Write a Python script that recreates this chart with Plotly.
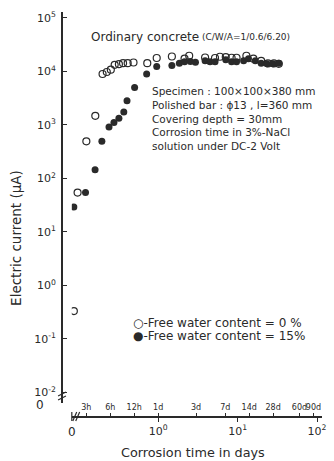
import plotly.graph_objects as go

# Corrosion time (days) and electric current (µA), free water content = 0 %
days_0 = [0.087, 0.097, 0.125, 0.162, 0.20, 0.226, 0.254, 0.284, 0.321, 0.362, 0.414, 0.49,
          0.73, 0.96, 1.49, 2.15, 2.46, 3.9, 5.2, 6.0, 7.1, 8.4, 9.7, 12.9, 15.8, 19.8,
          24.1, 28.6, 33.0]
current_0 = [0.33, 54, 490, 1470, 8900, 9700, 10700, 13200, 13600, 14200, 14200, 14600,
             14200, 17700, 18900, 17200, 19500, 18100, 17700, 18700, 18400, 17900, 17900,
             19500, 17200, 15700, 14000, 14000, 13800]

# free water content = 15 %
days_15 = [0.087, 0.122, 0.161, 0.196, 0.241, 0.278, 0.321, 0.37, 0.406, 0.506, 0.717,
           0.96, 1.49, 1.85, 2.15, 2.55, 2.95, 3.9, 4.5, 5.2, 7.1, 8.4, 9.7, 11.9, 13.7,
           16.7, 19.8, 23.5, 27.8, 33.0]
current_15 = [29, 54, 144, 490, 906, 1100, 1330, 1730, 2810, 4980, 8870,
              12300, 12800, 14200, 15100, 15200, 14800, 15700, 15100, 15100, 16400, 15100,
              15100, 15700, 17100, 15700, 14200, 13800, 13800, 14100]

# axis ticks
y_tickvals = [1e-2, 1e-1, 1e0, 1e1, 1e2, 1e3, 1e4, 1e5]
y_ticktext = ["10<sup>-2</sup>", "10<sup>-1</sup>", "10<sup>0</sup>", "10<sup>1</sup>",
              "10<sup>2</sup>", "10<sup>3</sup>", "10<sup>4</sup>", "10<sup>5</sup>"]
x_tickvals = [1, 10, 100]
x_ticktext = ["10<sup>0</sup>", "10<sup>1</sup>", "10<sup>2</sup>"]
time_tickvals = [0.125, 0.25, 0.5, 1, 3, 7, 14, 28, 60, 90]
time_ticktext = ["3h", "6h", "12h", "1d", "3d", "7d", "14d", "28d", "60d", "90d"]

title_main = "Ordinary concrete"
title_mix = "(C/W/A=1/0.6/6.20)"
notes = ["Specimen : 100×100×380 mm",
         "Polished bar : ϕ13 , l=360 mm",
         "Covering depth = 30mm",
         "Corrosion time in 3%-NaCl",
         "solution under DC-2 Volt"]
legend_labels = ["○-Free water content = 0 %", "●-Free water content = 15%"]

W, H = 334, 461
L, R, T, B = 62, 7, 12, 44
PW, PH = W - L - R, H - T - B
INK = "#2a2a2a"
FONT = "DejaVu Sans"


def px(x):
    return (x - L) / PW


def py(y):
    return (H - B - y) / PH


fig = go.Figure()
fig.add_trace(go.Scatter(
    x=days_0, y=current_0, mode="markers", name="Free water content = 0 %",
    marker=dict(symbol="circle-open", size=7, color=INK, line=dict(width=1.2, color=INK)),
))
fig.add_trace(go.Scatter(
    x=days_15, y=current_15, mode="markers", name="Free water content = 15%",
    marker=dict(symbol="circle", size=7, color=INK),
))
# invisible trace carrying the hour/day scale on top of the time axis
fig.add_trace(go.Scatter(x=[days_0[0]], y=[current_0[0]], xaxis="x2", mode="markers",
                         marker=dict(opacity=0), showlegend=False, hoverinfo="skip"))

x_domain = [px(72), 1]
x_range = [-1.086, 2.062]
y_domain = [py(403), 1]
y_range = [-2.2, 5.108]

fig.update_layout(
    width=W, height=H,
    margin=dict(l=L, r=R, t=T, b=B, pad=0),
    paper_bgcolor="white", plot_bgcolor="white",
    font=dict(family=FONT, color=INK, size=11),
    showlegend=False,
    xaxis=dict(type="log", range=x_range, domain=x_domain, anchor="free", position=0,
               showline=True, linecolor=INK, linewidth=1.6, showgrid=False, zeroline=False,
               ticks="outside", ticklen=4, tickwidth=1.2, tickcolor=INK,
               tickvals=x_tickvals, ticktext=x_ticktext, tickfont=dict(size=11)),
    xaxis2=dict(type="log", range=x_range, domain=x_domain, overlaying="x", anchor="free",
                position=0, side="top", showline=False, showgrid=False, zeroline=False,
                ticks="outside", ticklen=4, tickwidth=1.2, tickcolor=INK, tickangle=0,
                tickvals=time_tickvals, ticktext=time_ticktext, tickfont=dict(size=8)),
    yaxis=dict(type="log", range=y_range, domain=y_domain, anchor="free", position=0,
               showline=True, linecolor=INK, linewidth=1.6, showgrid=False, zeroline=False,
               ticks="inside", ticklen=4, tickwidth=1.2, tickcolor=INK,
               tickvals=y_tickvals, ticktext=y_ticktext, tickfont=dict(size=11),
               ticklabelstandoff=3),
)

ann = []
ann.append(dict(text=title_main, x=px(90), y=py(37), xanchor="left", yanchor="middle",
                font=dict(size=12)))
ann.append(dict(text=title_mix, x=px(203), y=py(37), xanchor="left", yanchor="middle",
                font=dict(size=9)))
for i, line in enumerate(notes):
    ann.append(dict(text=line, x=px(152), y=py(91 + i * 13.8), xanchor="left",
                    yanchor="middle", font=dict(size=10.5)))
for i, line in enumerate(legend_labels):
    ann.append(dict(text=line, x=px(132), y=py(323 + i * 12.8), xanchor="left",
                    yanchor="middle", font=dict(size=12)))
ann.append(dict(text="Electric current (μA)", x=px(15), y=py(238), textangle=-90,
                xanchor="center", yanchor="middle", font=dict(size=13.5)))
ann.append(dict(text="Corrosion time in days", x=px(196), y=py(452), xanchor="center",
                yanchor="middle", font=dict(size=12.8)))
ann.append(dict(text="0", x=px(40), y=py(405), xanchor="center", yanchor="middle",
                font=dict(size=12)))
ann.append(dict(text="0", x=px(72), y=py(432), xanchor="center", yanchor="middle",
                font=dict(size=12)))
for a in ann:
    a.update(xref="paper", yref="paper", showarrow=False)
fig.update_layout(annotations=ann)

# axis break marks
line_style = dict(color=INK, width=1.2)
shapes = []
for yb in (394, 398):
    shapes.append(dict(type="line", x0=px(58), x1=px(66), y0=py(yb + 2), y1=py(yb - 2)))
shapes.append(dict(type="line", x0=px(72), x1=px(72), y0=py(412), y1=py(421)))
for xb in (75, 78):
    shapes.append(dict(type="line", x0=px(xb - 2), x1=px(xb + 2), y0=py(421), y1=py(412)))
for s in shapes:
    s.update(xref="paper", yref="paper", line=line_style)
fig.update_layout(shapes=shapes)

fig.write_html("out.html")
